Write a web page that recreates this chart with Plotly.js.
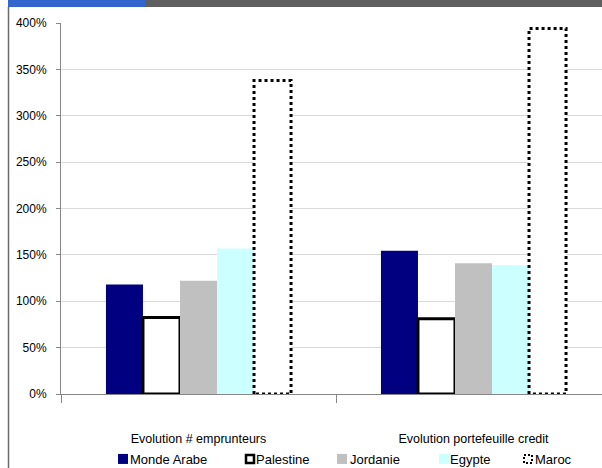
<!DOCTYPE html>
<html>
<head>
<meta charset="utf-8">
<script src="https://cdn.plot.ly/plotly-3.0.1.min.js"></script>
<style>
html, body { margin: 0; padding: 0; overflow: hidden; background: #fff; }
#chart { width: 612px; height: 468px; }
</style>
</head>
<body>
<div id="chart"></div>
<script>
// ---- data ----
const categories = ["Evolution # emprunteurs", "Evolution portefeuille credit"];
const seriesNames = ["Monde Arabe", "Palestine", "Jordanie", "Egypte", "Maroc"];
const mondeArabe = [1.18, 1.545];
const palestine  = [0.825, 0.81];
const jordanie   = [1.22, 1.41];
const egypte     = [1.57, 1.39];
const maroc      = [3.38, 3.94];
const yTickVals  = [0, 0.5, 1, 1.5, 2, 2.5, 3, 3.5, 4];
const yTickText  = ["0%", "50%", "100%", "150%", "200%", "250%", "300%", "350%", "400%"];

// legend item placement (layout, px)
const legendSymbolLeft = [118, 245, 337, 439, 523];
const legendTextLeft   = [130, 256, 350, 450, 535];

const W = 612, H = 468;
const M = { l: 61, r: 1, t: 23, b: 74, autoexpand: false };
const pw = W - M.l - M.r, ph = H - M.t - M.b;
const px = x => (x - M.l) / pw;
const py = y => (H - M.b - y) / ph;

const FAM = "Liberation Sans, Arial, sans-serif";

function bar(name, vals, fill, lineColor, lineWidth) {
  return {
    type: "bar", name: name, x: categories, y: vals,
    marker: { color: fill, line: { color: lineColor, width: lineWidth } },
    hoverinfo: "skip"
  };
}

const data = [
  bar(seriesNames[0], mondeArabe, "#000080", "#000080", 0),
  bar(seriesNames[1], palestine, "#ffffff", "#000000", 3),
  bar(seriesNames[2], jordanie, "#c0c0c0", "#c0c0c0", 0),
  bar(seriesNames[3], egypte, "#ccffff", "#ccffff", 0),
  bar(seriesNames[4], maroc, "#ffffff", "#000000", 3)
];

const layout = {
  width: W, height: H,
  margin: M,
  paper_bgcolor: "#ffffff", plot_bgcolor: "#ffffff",
  font: { family: FAM, size: 12, color: "#000" },
  barmode: "group", bargap: 0.327, bargroupgap: 0,
  showlegend: true,
  legend: {
    orientation: "h", x: px(90), xanchor: "left", y: py(459), yanchor: "middle",
    font: { family: FAM, size: 13, color: "#000" },
    itemwidth: 30, traceorder: "normal", borderwidth: 0,
    bgcolor: "rgba(0,0,0,0)"
  },
  xaxis: {
    type: "category", range: [-0.5, 1.5],
    showline: true, linecolor: "#868686", linewidth: 1,
    ticks: "outside", tickson: "boundaries", ticklen: 8, tickcolor: "#868686",
    showgrid: false, zeroline: false,
    tickfont: { family: FAM, size: 12.5, color: "#000" },
    ticklabelstandoff: 33
  },
  yaxis: {
    range: [0, 4], tickvals: yTickVals, ticktext: yTickText,
    showline: true, linecolor: "#868686", linewidth: 1,
    ticks: "outside", ticklen: 4, tickcolor: "#868686",
    showgrid: true, gridcolor: "#d9d9d9", gridwidth: 1,
    zeroline: false, ticklabelstandoff: 7,
    tickfont: { family: FAM, size: 12, color: "#000" }
  },
  shapes: [
    { type: "rect", xref: "paper", yref: "paper", x0: px(8), x1: px(145), y0: py(7), y1: py(0),
      fillcolor: "#3366cc", line: { width: 0 }, layer: "above" },
    { type: "rect", xref: "paper", yref: "paper", x0: px(145), x1: px(612), y0: py(7), y1: py(0),
      fillcolor: "#5f5f5f", line: { width: 0 }, layer: "above" },
    { type: "line", xref: "paper", yref: "paper", x0: px(8.5), x1: px(8.5), y0: py(468), y1: py(7),
      line: { color: "#6a6a6a", width: 1.5 }, layer: "above" }
  ]
};

Plotly.newPlot("chart", data, layout, { staticPlot: true, displayModeBar: false }).then(() => {
  const traces = document.querySelectorAll(".barlayer .trace");
  if (traces[4]) traces[4].querySelectorAll("path").forEach(p => {
    p.style.strokeDasharray = "3,3";
  });
  const legTraces = document.querySelectorAll(".legend .traces");
  legTraces.forEach((t, i) => {
    const outlined = (i === 1 || i === 4);
    t.querySelectorAll(".legendpoints path").forEach(p => {
      p.setAttribute("d", outlined ? "M4,4H-4V-4H4Z" : "M5,5H-5V-5H5Z");
      if (i === 4) { p.style.strokeDasharray = "2,2"; p.style.strokeWidth = "2px"; }
      if (i === 1) p.style.strokeWidth = "2.5px";
      const r = p.getBoundingClientRect();
      const tgt = legendSymbolLeft[i] + (outlined ? 1 : 0);
      const m = /translate\(([-\d.]+)/.exec(p.getAttribute("transform") || "");
      const cx = m ? parseFloat(m[1]) : 0;
      p.setAttribute("transform", "translate(" + (cx + tgt - r.left) + ",0)");
    });
    const txt = t.querySelector("text.legendtext");
    if (txt) {
      const r = txt.getBoundingClientRect();
      const x0 = parseFloat(txt.getAttribute("x") || "0");
      txt.setAttribute("x", x0 + legendTextLeft[i] - r.left);
    }
  });
});
</script>
</body>
</html>
